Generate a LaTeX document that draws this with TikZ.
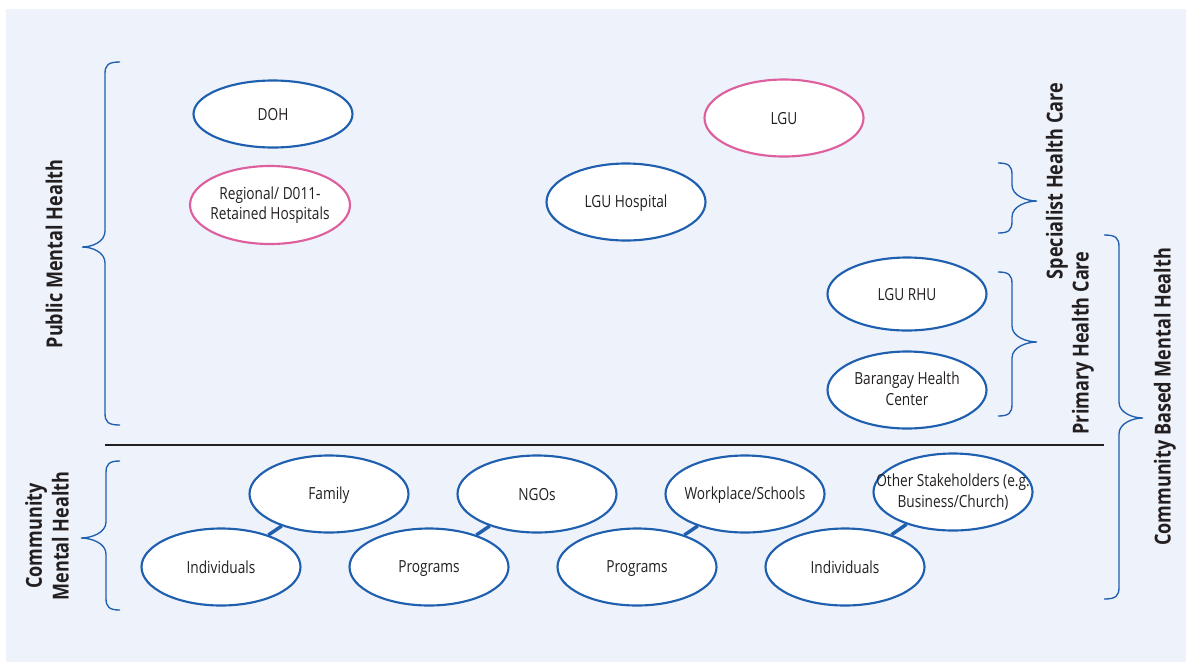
\documentclass[tikz,border=0pt]{standalone}
\usepackage{fontspec}
\setmainfont{Open Sans}[FakeStretch=0.82]
\usetikzlibrary{shapes.geometric}
\definecolor{panel}{HTML}{EEF2FA}
\definecolor{edgeblue}{HTML}{1F5FAF}
\definecolor{edgepink}{HTML}{DE5F9E}
\definecolor{ink}{HTML}{231F20}
\pgfdeclarelayer{backdrop}
\pgfdeclarelayer{links}
\pgfsetlayers{backdrop,links,main}
% uniform line height inside the ovals
\newcommand{\ovalstrut}{\rule[-2pt]{0pt}{13pt}}
% left curly brace: vertical at #1, end tips at #2, point at #3; top, middle, bottom y
\newcommand{\bracepathL}[6]{%
  \draw[bracestyle] (#2,#4) .. controls (#1+3,#4) and (#1,#4+3) .. (#1,#4+12)
    -- (#1,#5-16) .. controls (#1,#5-5) and (#3+10,#5) .. (#3,#5)
    .. controls (#3+10,#5) and (#1,#5+5) .. (#1,#5+16)
    -- (#1,#6-12) .. controls (#1,#6-3) and (#1+3,#6) .. (#2,#6);}
% right curly brace, mirrored
\newcommand{\bracepathR}[6]{%
  \draw[bracestyle] (#2,#4) .. controls (#1-3,#4) and (#1,#4+3) .. (#1,#4+12)
    -- (#1,#5-16) .. controls (#1,#5-5) and (#3-10,#5) .. (#3,#5)
    .. controls (#3-10,#5) and (#1,#5+5) .. (#1,#5+16)
    -- (#1,#6-12) .. controls (#1,#6-3) and (#1-3,#6) .. (#2,#6);}
\tikzset{
  oval/.style={ellipse, draw=edgeblue, line width=1.6pt, fill=white, text=ink,
    minimum width=119.25pt, minimum height=57.75pt,
    inner xsep=-20pt, inner ysep=-10pt, align=center,
    font=\fontsize{12.5}{15.5}\selectfont,
    execute at begin node=\ovalstrut, execute at end node=\ovalstrut},
  ovalpink/.style={oval, draw=edgepink},
  link/.style={draw=edgeblue, line width=2.6pt},
  bracestyle/.style={draw=edgeblue, line width=1pt},
  sidelabel/.style={rotate=90, text=ink, align=center,
    font=\fontsize{16.5}{20}\selectfont\bfseries},
}
\begin{document}
\begin{tikzpicture}[x=0.75pt, y=-0.75pt]
\useasboundingbox (0,0) rectangle (1186,662);
\begin{pgfonlayer}{backdrop}
\fill[panel] (6,9) rectangle (1186,662);
\end{pgfonlayer}

% public sector organisations
\node[oval, minimum height=50.25pt] (doh) at (273,114) {DOH};
\node[ovalpink, minimum width=120pt, minimum height=58.5pt] (reg) at (270,205) {Regional/ D011-\\Retained Hospitals};
\node[ovalpink] (lgu) at (784,118) {LGU};
\node[oval] (lguh) at (626,202) {LGU Hospital};
\node[oval, minimum height=54.75pt] (rhu) at (907,294) {LGU RHU};
\node[oval] (bhc) at (907,390) {Barangay Health\\Center};

% divider between public and community sectors
\coordinate (divL) at (105,445);
\coordinate (divR) at (1104,445);
\draw[ink, line width=1pt] (divL) -- (divR);

% community actors, linked in pairs
\node[oval] (fam) at (329,494) {Family};
\node[oval] (ind1) at (221,567) {Individuals};
\node[oval] (ngo) at (537,494) {NGOs};
\node[oval] (prog1) at (429,567) {Programs};
\node[oval] (work) at (745,494) {Workplace/Schools};
\node[oval] (prog2) at (637,567) {Programs};
\node[oval] (oth) at (953,492) {Other Stakeholders (e.g.\\Business/Church)};
\node[oval] (ind2) at (845,567) {Individuals};
\begin{pgfonlayer}{links}
\draw[link] (ind1) -- (fam);
\draw[link] (prog1) -- (ngo);
\draw[link] (prog2) -- (work);
\draw[link] (ind2) -- (oth);
\end{pgfonlayer}

% braces
\bracepathL{105}{120}{82}{62}{247}{425}
\bracepathL{106}{120}{81}{461}{538}{610}
\bracepathR{1012}{998}{1037}{163}{201}{233}
\bracepathR{1012}{998}{1037}{272}{342}{416}
\bracepathR{1119}{1104}{1143}{235}{418}{599}

% group labels
\node[sidelabel] (pmh) at (54,254) {Public Mental Health};
\node[sidelabel] (cmh) at (47,536) {Community\\Mental Health};
\node[sidelabel] (shc) at (1057,181) {Specialist Health Care};
\node[sidelabel] (phc) at (1083,343) {Primary Health Care};
\node[sidelabel] (cbmh) at (1165,397) {Community Based Mental Health};
\end{tikzpicture}
\end{document}
